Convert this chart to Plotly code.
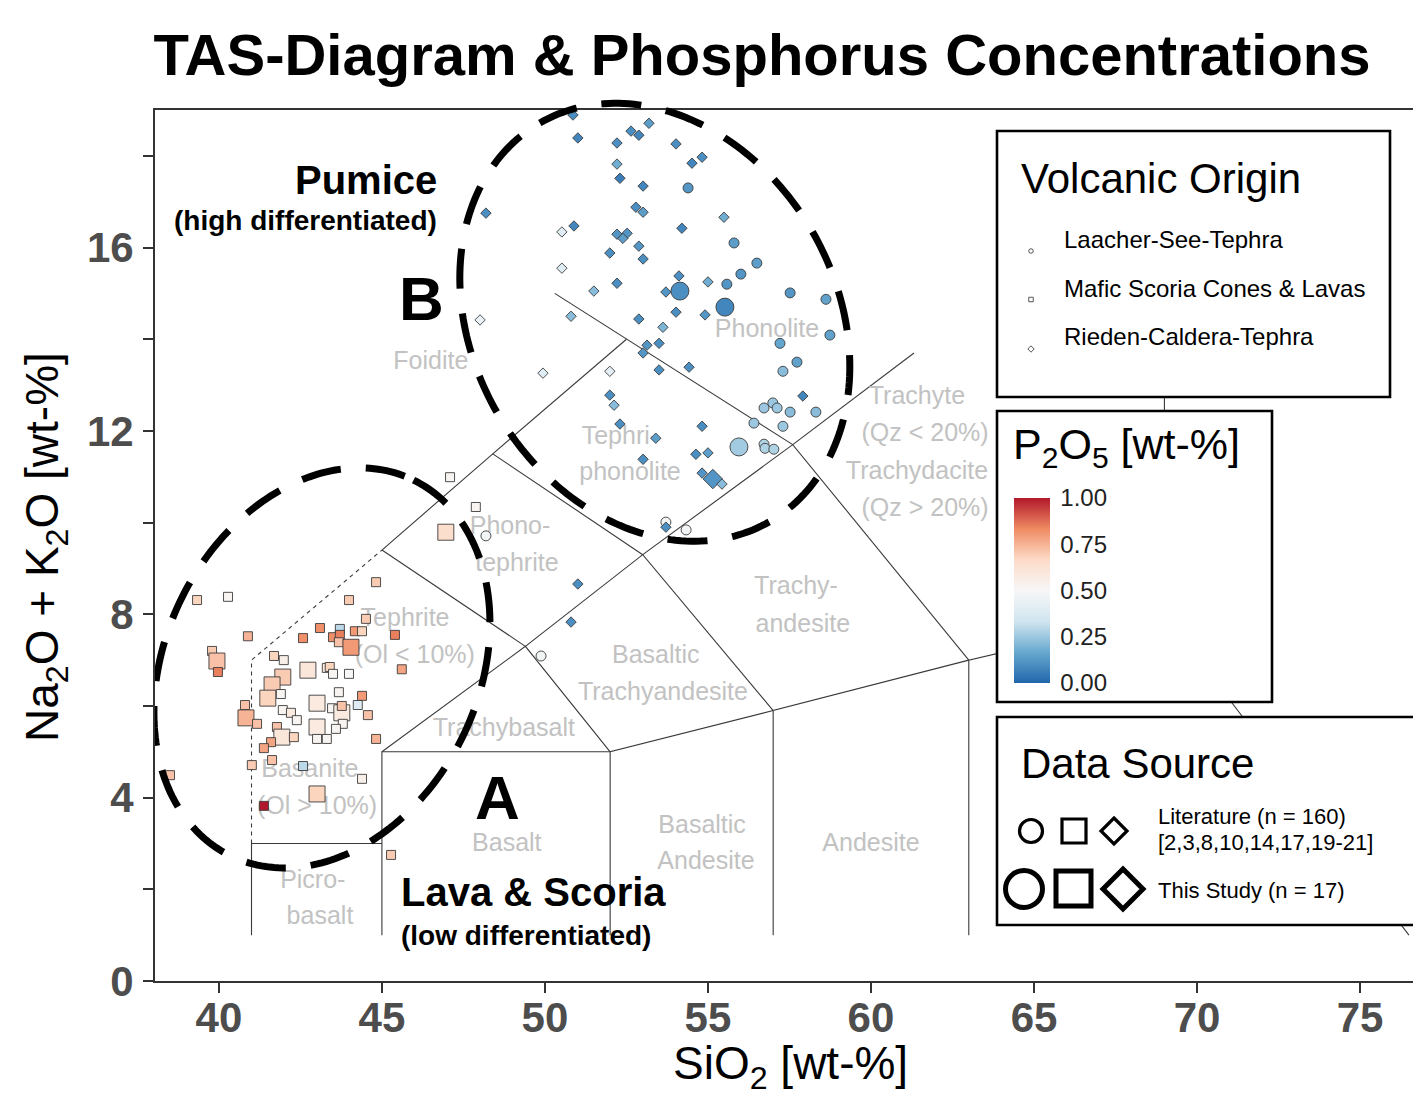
import numpy as np
import plotly.graph_objects as go

# ---------------- data ----------------
# Laacher-See-Tephra (circles)
lst_sio2 = [54.39, 55.80, 56.50, 56.01, 55.58, 54.14, 55.52, 57.52, 58.62, 57.21, 58.74, 57.73, 57.30, 56.72,
            56.99, 57.12, 57.52, 58.31, 56.41, 57.30, 55.95, 56.72, 56.75, 57.02, 53.71, 54.33, 49.88, 48.19]
lst_alk = [17.30, 16.10, 15.66, 15.42, 15.20, 15.05, 14.70, 15.01, 14.87, 13.91, 14.09, 13.50, 13.30, 12.50,
           12.61, 12.50, 12.41, 12.41, 12.17, 12.10, 11.65, 11.71, 11.62, 11.60, 10.01, 9.84, 7.09, 9.71]
lst_p2o5 = [0.12, 0.14, 0.14, 0.12, 0.12, 0.10, 0.08, 0.12, 0.15, 0.16, 0.15, 0.15, 0.22, 0.25,
            0.25, 0.25, 0.22, 0.22, 0.25, 0.25, 0.26, 0.28, 0.28, 0.28, 0.48, 0.48, 0.48, 0.48]
lst_study = [0, 0, 0, 0, 0, 1, 1, 0, 0, 0, 0, 0, 0, 0,
             0, 0, 0, 0, 0, 0, 1, 0, 0, 0, 0, 0, 0, 0]

# Mafic Scoria Cones & Lavas (squares)
msc_sio2 = [39.33, 40.28, 40.89, 39.79, 39.94, 39.97, 44.82, 43.99, 44.51, 43.10,
            43.71, 44.17, 44.39, 45.40, 42.58, 43.50, 43.71, 43.68, 44.05, 41.69,
            41.99, 42.73, 43.31, 43.40, 43.50, 43.99, 45.61, 41.96, 41.63, 41.50,
            41.90, 43.68, 44.39, 44.26, 40.80, 43.01, 43.47, 43.77, 43.77, 41.96,
            42.21, 42.39, 40.83, 41.17, 44.57, 43.80, 43.01, 43.59, 41.78, 41.93,
            42.30, 43.01, 43.31, 41.60, 41.38, 44.82, 41.01, 41.63, 42.58, 44.39,
            38.50, 43.01, 41.38, 47.09, 47.88, 46.96, 45.28]
msc_alk = [8.31, 8.38, 7.52, 7.20, 6.98, 6.74, 8.70, 8.31, 7.90, 7.70,
           7.68, 7.63, 7.63, 7.55, 7.48, 7.50, 7.55, 7.39, 7.28, 7.09,
           7.00, 6.78, 6.83, 6.85, 6.70, 6.70, 6.80, 6.63, 6.46, 6.17,
           6.26, 6.30, 6.22, 6.02, 6.02, 6.06, 5.95, 5.85, 6.00, 5.91,
           5.85, 5.69, 5.74, 5.61, 5.80, 5.61, 5.54, 5.50, 5.54, 5.32,
           5.32, 5.28, 5.28, 5.21, 5.08, 5.28, 4.71, 4.82, 4.69, 4.41,
           4.49, 4.08, 3.82, 10.99, 10.34, 9.79, 2.75]
msc_p2o5 = [0.68, 0.52, 0.75, 0.70, 0.72, 0.85, 0.70, 0.70, 0.70, 0.82,
            0.30, 0.80, 0.68, 0.85, 0.82, 0.82, 0.85, 0.72, 0.80, 0.68,
            0.55, 0.60, 0.58, 0.68, 0.52, 0.50, 0.78, 0.70, 0.70, 0.68,
            0.52, 0.52, 0.80, 0.40, 0.72, 0.58, 0.52, 0.58, 0.72, 0.52,
            0.58, 0.52, 0.75, 0.72, 0.72, 0.52, 0.58, 0.52, 0.72, 0.60,
            0.68, 0.52, 0.52, 0.78, 0.78, 0.75, 0.70, 0.72, 0.30, 0.55,
            0.72, 0.68, 1.00, 0.52, 0.52, 0.65, 0.70]
msc_study = [0, 0, 0, 0, 1, 0, 0, 0, 0, 0,
             0, 0, 0, 0, 0, 0, 0, 0, 1, 0,
             0, 1, 0, 0, 0, 0, 0, 1, 1, 1,
             0, 0, 0, 0, 0, 1, 0, 1, 0, 0,
             0, 0, 1, 0, 0, 0, 1, 0, 0, 1,
             0, 0, 0, 0, 0, 0, 0, 0, 0, 0,
             0, 1, 0, 0, 0, 1, 0]

# Rieden-Caldera-Tephra (diamonds)
rct_sio2 = [50.86, 51.01, 52.64, 52.88, 53.19, 52.21, 54.02, 54.51, 54.82, 52.21,
            52.30, 53.01, 48.19, 52.79, 53.01, 55.49, 50.52, 50.89, 54.20, 52.21,
            52.52, 52.39, 52.88, 51.99, 53.01, 50.52, 52.21, 51.50, 54.11, 55.00,
            53.71, 48.01, 50.80, 52.88, 54.02, 54.91, 53.62, 53.13, 53.50,
            53.01, 53.50, 54.42, 51.99, 49.94, 51.99, 52.12, 52.30, 53.40, 53.01,
            54.82, 54.63, 55.00, 54.82, 55.15, 55.43, 57.91, 53.71, 51.01, 50.80]
rct_alk = [18.89, 18.39, 18.54, 18.45, 18.71, 18.28, 18.26, 17.84, 17.97, 17.82,
           17.51, 17.34, 16.75, 16.88, 16.77, 16.66, 16.34, 16.47, 16.42, 16.29,
           16.31, 16.20, 16.03, 15.88, 15.75, 15.55, 15.22, 15.05, 15.38, 15.25,
           15.03, 14.42, 14.50, 14.44, 14.59, 14.53, 14.26, 13.87, 13.91,
           13.70, 13.33, 13.39, 13.30, 13.26, 12.78, 12.56, 12.15, 11.84, 11.38,
           12.10, 11.49, 11.52, 11.08, 10.95, 10.84, 12.76, 9.90, 8.66, 7.83]
rct_p2o5 = [0.10, 0.08, 0.10, 0.08, 0.14, 0.10, 0.10, 0.08, 0.10, 0.18,
            0.06, 0.08, 0.10, 0.10, 0.14, 0.18, 0.40, 0.08, 0.08, 0.12,
            0.12, 0.14, 0.12, 0.10, 0.10, 0.40, 0.10, 0.22, 0.10, 0.18,
            0.12, 0.45, 0.22, 0.10, 0.10, 0.12, 0.20, 0.12, 0.10,
            0.12, 0.10, 0.10, 0.42, 0.40, 0.10, 0.22, 0.10, 0.14, 0.10,
            0.10, 0.10, 0.14, 0.12, 0.12, 0.22, 0.08, 0.10, 0.10, 0.10]
rct_study = [0] * 53 + [1] + [0] * 5

# TAS field boundaries (Le Bas et al. 1986), as polylines
tas_solid = [
    [(41, 1), (41, 3), (45, 3)],
    [(45, 1), (45, 5), (52, 5)],
    [(52, 1), (52, 5), (57, 5.9)],
    [(57, 1), (57, 5.9), (63, 7)],
    [(63, 1), (63, 7), (69, 8), (76.5, 1)],
    [(69, 8), (69, 13)],
    [(45, 5), (49.4, 7.3), (52, 5)],
    [(49.4, 7.3), (53, 9.3), (57, 5.9)],
    [(53, 9.3), (57.6, 11.7), (63, 7)],
    [(57.6, 11.7), (61.32, 13.7)],
    [(45, 9.4), (49.4, 7.3)],
    [(45, 9.4), (48.4, 11.5), (53, 9.3)],
    [(48.4, 11.5), (52.5, 14)],
    [(50.3, 15.0), (52.5, 14), (57.6, 11.7)],
]
tas_dashed = [[(41, 3), (41, 7), (45, 9.4)]]

# TAS field names (one entry per text line)
field_text = ["Foidite", "Phonolite", "Tephri-", "phonolite", "Phono-", "tephrite",
              "Tephrite", "(Ol < 10%)", "Basanite", "(Ol > 10%)", "Trachybasalt",
              "Basaltic", "Trachyandesite", "Trachy-", "andesite", "Trachyte", "(Qz < 20%)",
              "Trachydacite", "(Qz > 20%)", "Basalt", "Basaltic", "Andesite", "Andesite",
              "Picro-", "basalt"]
field_x = [46.50, 56.81, 52.30, 52.61, 48.93, 49.14, 45.71, 46.01, 42.79, 43.01, 48.74,
           53.40, 53.62, 57.70, 57.91, 61.41, 61.66, 61.41, 61.66, 48.83, 54.82, 54.94, 60.00,
           42.88, 43.10]
field_y = [13.48, 14.18, 11.86, 11.06, 9.88, 9.07, 7.87, 7.07, 4.58, 3.77, 5.47,
           7.07, 6.26, 8.57, 7.76, 12.72, 11.91, 11.08, 10.27, 2.97, 3.36, 2.57, 2.97,
           2.16, 1.37]

x_ticks = [40, 45, 50, 55, 60, 65, 70, 75]
y_ticks = [0, 2, 4, 6, 8, 10, 12, 14, 16, 18]
y_ticktext = ["0", "", "4", "", "8", "", "12", "", "16", ""]
cbar_ticks = [0.0, 0.25, 0.5, 0.75, 1.0]

# ---------------- layout constants ----------------
FONT = "Liberation Sans"
OFF = 8  # page body margin of the browser
FIG_W, FIG_H = 1421 - OFF, 1097 - OFF
M_L, M_R, M_T, M_B = 155 - OFF, 0, 110 - OFF, 116
PLOT_W = FIG_W - M_L - M_R
PLOT_H = FIG_H - M_T - M_B
X_RANGE = [38.04, 76.87]
Y_RANGE = [0, 19]
SX = PLOT_W / (X_RANGE[1] - X_RANGE[0])
SY = PLOT_H / (Y_RANGE[1] - Y_RANGE[0])


def pp(xp, yp):
    """window pixel position -> paper coordinates"""
    return (xp - OFF - M_L) / PLOT_W, (FIG_H - M_B - (yp - OFF)) / PLOT_H


rdbu = [[0.0, "#2166AC"], [1 / 6, "#67A9CF"], [2 / 6, "#D1E5F0"], [0.5, "#F7F7F7"],
        [4 / 6, "#FDDBC7"], [5 / 6, "#EF8A62"], [1.0, "#B2182B"]]

fig = go.Figure()


def lines_trace(polys, dash):
    xs, ys = [], []
    for poly in polys:
        for (a, b) in poly:
            xs.append(a)
            ys.append(b)
        xs.append(None)
        ys.append(None)
    return go.Scatter(x=xs, y=ys, mode="lines", hoverinfo="skip",
                      line=dict(color="#3a3a3a", width=1.1, dash=dash))


fig.add_trace(lines_trace(tas_solid, "solid"))
fig.add_trace(lines_trace(tas_dashed, "4px,4px"))

fig.add_trace(go.Scatter(x=field_x, y=field_y, mode="text", text=field_text,
                         textposition="middle center", hoverinfo="skip",
                         textfont=dict(family=FONT, size=25, color="#c2c2c2")))


def points(xv, yv, pv, study, symbol, s_small, s_big, name):
    sizes = [s_big if s else s_small for s in study]
    return go.Scatter(x=xv, y=yv, mode="markers", name=name,
                      marker=dict(symbol=symbol, size=sizes, color=pv, coloraxis="coloraxis",
                                  line=dict(color="#3c3c3c", width=0.9), opacity=1))


fig.add_trace(points(msc_sio2, msc_alk, msc_p2o5, msc_study, "square", 9, 16,
                     "Mafic Scoria Cones & Lavas"))
fig.add_trace(points(lst_sio2, lst_alk, lst_p2o5, lst_study, "circle", 10, 18,
                     "Laacher-See-Tephra"))
fig.add_trace(points(rct_sio2, rct_alk, rct_p2o5, rct_study, "diamond", 8, 15,
                     "Rieden-Caldera-Tephra"))

shapes = []


# dashed grouping ellipses (x in data units, y in paper units)
def ellipse(cx, cy, vext, hext, theta_deg):
    th = np.radians(theta_deg)
    diff = (vext ** 2 - hext ** 2) / np.cos(2 * th)
    summ = vext ** 2 + hext ** 2
    a = np.sqrt((summ + diff) / 2)
    b = np.sqrt((summ - diff) / 2)
    t = np.linspace(0, 2 * np.pi, 241)
    ux, uy = np.sin(th), -np.cos(th)
    vx, vy = np.cos(th), np.sin(th)
    dx = a * np.cos(t) * ux + b * np.sin(t) * vx
    dy = a * np.cos(t) * uy + b * np.sin(t) * vy
    xs = cx + dx / SX
    ys = (cy - dy / SY) / (Y_RANGE[1] - Y_RANGE[0])
    path = "M " + " L ".join(f"{x:.4f},{y:.5f}" for x, y in zip(xs, ys)) + " Z"
    return dict(type="path", path=path, xref="x", yref="paper", layer="above",
                line=dict(color="black", width=7, dash="40px,25px"))


shapes.append(ellipse(43.16, 6.83, 200, 168, 26))
shapes.append(ellipse(53.37, 14.37, 219, 195, -30))


def box(x0, y0, x1, y1):
    a0, b0 = pp(x0, y0)
    a1, b1 = pp(x1, y1)
    return dict(type="rect", xref="paper", yref="paper", x0=a0, y0=b1, x1=a1, y1=b0,
                layer="above", fillcolor="white", line=dict(color="black", width=2.6))


shapes.append(box(997, 131, 1390, 397))
shapes.append(box(997, 411, 1272, 702))
shapes.append(box(997, 717, 1416, 925))


def circ(cxp, cyp, d, lw, color="black"):
    a0, b0 = pp(cxp - d / 2, cyp - d / 2)
    a1, b1 = pp(cxp + d / 2, cyp + d / 2)
    return dict(type="circle", xref="paper", yref="paper", x0=a0, x1=a1, y0=b1, y1=b0,
                layer="above", line=dict(color=color, width=lw), fillcolor="rgba(0,0,0,0)")


def sq(cxp, cyp, d, lw, color="black"):
    a0, b0 = pp(cxp - d / 2, cyp - d / 2)
    a1, b1 = pp(cxp + d / 2, cyp + d / 2)
    return dict(type="rect", xref="paper", yref="paper", x0=a0, x1=a1, y0=b1, y1=b0,
                layer="above", line=dict(color=color, width=lw), fillcolor="rgba(0,0,0,0)")


def dia(cxp, cyp, h, lw, color="black"):
    pts = [pp(cxp, cyp - h), pp(cxp + h, cyp), pp(cxp, cyp + h), pp(cxp - h, cyp)]
    path = "M " + " L ".join(f"{x:.5f},{y:.5f}" for x, y in pts) + " Z"
    return dict(type="path", path=path, xref="paper", yref="paper", layer="above",
                line=dict(color=color, width=lw), fillcolor="rgba(0,0,0,0)")


# Volcanic Origin keys (tiny)
shapes.append(circ(1031, 251, 4.5, 1, "#555555"))
shapes.append(sq(1031, 299.5, 4.5, 1, "#555555"))
shapes.append(dia(1031, 349, 3.2, 1, "#555555"))
# Data Source keys
shapes.append(circ(1031, 831, 23, 3.2))
shapes.append(sq(1074, 831, 24, 3.2))
shapes.append(dia(1114, 831, 13, 3.2))
shapes.append(circ(1024, 889, 37, 5))
shapes.append(sq(1073.5, 888.5, 35, 5))
shapes.append(dia(1123, 889, 20, 5))

annotations = []


def ann(text, xp, yp, size, xanchor="center", color="black", angle=0):
    x, y = pp(xp, yp)
    annotations.append(dict(text=text, x=x, y=y, xref="paper", yref="paper",
                            xanchor=xanchor, yanchor="middle", showarrow=False,
                            textangle=angle,
                            font=dict(family=FONT, size=size, color=color)))


ann("<b>Pumice</b>", 439, 180, 40, "right")
ann("<b>(high differentiated)</b>", 439, 221, 28, "right")
ann("<b>B</b>", 421, 298, 62)
ann("<b>A</b>", 497, 797, 62)
ann("<b>Lava & Scoria</b>", 399, 892, 40, "left")
ann("<b>(low differentiated)</b>", 399, 935, 28, "left")

ann("Volcanic Origin", 1019, 178, 42, "left")
ann("Laacher-See-Tephra", 1062, 239, 24, "left")
ann("Mafic Scoria Cones & Lavas", 1062, 288, 24, "left")
ann("Rieden-Caldera-Tephra", 1062, 336, 24, "left")

ann("P<sub>2</sub>O<sub>5</sub> [wt-%]", 1011, 447, 43, "left")

ann("Data Source", 1019, 763, 42, "left")
ann("Literature (n = 160)", 1156, 816, 22, "left")
ann("[2,3,8,10,14,17,19-21]", 1156, 842, 22, "left")
ann("This Study (n = 17)", 1156, 890, 22, "left")

ann("SiO<sub>2</sub> [wt-%]", 790, 1066, 46)
ann("Na<sub>2</sub>O + K<sub>2</sub>O [wt-%]", 45, 547, 46, angle=-90)

cb_x, cb_y = pp(1014, 590.5)

fig.update_layout(
    width=FIG_W, height=FIG_H,
    margin=dict(l=M_L, r=M_R, t=M_T, b=M_B, pad=0),
    paper_bgcolor="white", plot_bgcolor="white",
    showlegend=False,
    title=dict(text="<b>TAS-Diagram & Phosphorus Concentrations</b>",
               x=(762 - OFF) / FIG_W, xanchor="center", y=1 - (55 - OFF) / FIG_H,
               yanchor="middle", xref="container", yref="container",
               font=dict(family=FONT, size=58, color="black")),
    xaxis=dict(range=X_RANGE, tickvals=x_ticks, ticks="outside", ticklen=10, tickwidth=2,
               tickcolor="#333333", showline=True, linecolor="#333333", linewidth=2,
               mirror=True, showgrid=False, zeroline=False, ticklabelstandoff=-11,
               tickfont=dict(family=FONT, size=42, color="#4d4d4d", weight="bold")),
    yaxis=dict(range=Y_RANGE, tickvals=y_ticks, ticktext=y_ticktext, ticks="outside",
               ticklen=10, tickwidth=2, tickcolor="#333333", showline=True,
               linecolor="#333333", linewidth=2, showgrid=False, zeroline=False,
               ticklabelstandoff=1,
               tickfont=dict(family=FONT, size=42, color="#4d4d4d", weight="bold")),
    coloraxis=dict(colorscale=rdbu, cmin=0, cmax=1,
                   colorbar=dict(x=cb_x, xanchor="left", y=cb_y, yanchor="middle",
                                 len=185, lenmode="pixels", thickness=36,
                                 thicknessmode="pixels", xpad=0, ypad=0, outlinewidth=0,
                                 tickvals=cbar_ticks,
                                 ticktext=[f"{v:.2f}" for v in cbar_ticks],
                                 ticks="outside", ticklen=6, tickcolor="white", tickwidth=1,
                                 tickfont=dict(family=FONT, size=24, color="#222222"),
                                 title=dict(text=""))),
    shapes=shapes,
    annotations=annotations,
)

fig.write_html("out.html")
